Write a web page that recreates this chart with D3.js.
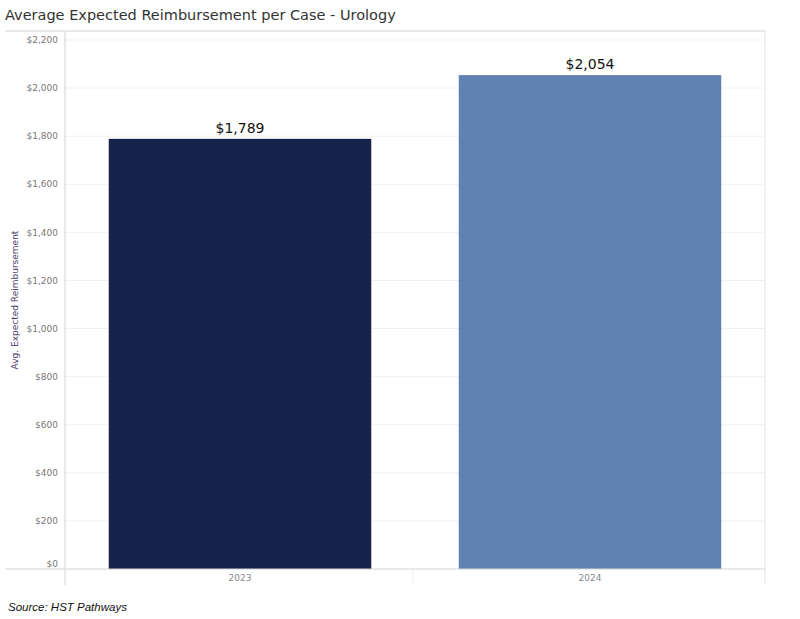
<!DOCTYPE html><html><head><meta charset="utf-8"><script src="https://cdn.jsdelivr.net/npm/d3@7"></script>
<style>body{margin:0;background:#fff}</style></head><body><svg id="c" width="800" height="619"></svg>
<script>
const categories=["2023","2024"];
const values=[1789,2054];
const colors=["#16234b","#5f82b0"];
const yTicks=[0,200,400,600,800,1000,1200,1400,1600,1800,2000,2200];
const svg=d3.select("#c");
const L=65,R=765,T=31,B=569;
const x=d3.scaleBand().domain(categories).range([L,R]).paddingInner(0.25).paddingOuter(0.125);
const y=d3.scaleLinear().domain([0,2200]).range([B,40]);
const f=d3.format("$,");
svg.append("text").attr("x",5).attr("y",20).attr("font-family","Verdana, DejaVu Sans, sans-serif").attr("font-size",14.5).attr("fill","#333").text("Average Expected Reimbursement per Case - Urology");
// grid
svg.selectAll(".g").data(yTicks.filter(d=>d>0)).join("line").attr("x1",L).attr("x2",R).attr("y1",d=>y(d)).attr("y2",d=>y(d)).attr("stroke","#f1f1f1");
svg.append("line").attr("x1",5).attr("x2",R).attr("y1",T).attr("y2",T).attr("stroke","#d4d4d4");
svg.append("line").attr("x1",L).attr("x2",L).attr("y1",T).attr("y2",585).attr("stroke","#d4d4d4");
svg.append("line").attr("x1",R).attr("x2",R).attr("y1",T).attr("y2",585).attr("stroke","#e4e4e4");
svg.append("line").attr("x1",413).attr("x2",413).attr("y1",B).attr("y2",585).attr("stroke","#eee");
svg.selectAll(".yl").data(yTicks).join("text").attr("x",58).attr("y",d=>d===0?B-5:y(d)).attr("dy","0.35em").attr("text-anchor","end")
 .attr("font-family","Verdana, DejaVu Sans, sans-serif").attr("font-size",9).attr("fill","#777").text(d=>f(d));
svg.append("text").attr("transform","translate(18,300) rotate(-90)").attr("text-anchor","middle").attr("font-family","Verdana, DejaVu Sans, sans-serif").attr("font-size",9).attr("fill","#4a3a6a").text("Avg. Expected Reimbursement");
svg.selectAll(".b").data(values).join("rect").attr("x",(d,i)=>x(categories[i])).attr("width",x.bandwidth()).attr("y",d=>y(d)).attr("height",d=>B-y(d)).attr("fill",(d,i)=>colors[i]);
svg.selectAll(".v").data(values).join("text").attr("x",(d,i)=>x(categories[i])+x.bandwidth()/2).attr("y",d=>y(d)-6).attr("text-anchor","middle")
 .attr("font-family","Verdana, DejaVu Sans, sans-serif").attr("font-size",14).attr("fill","#111").text(d=>f(d));
svg.append("line").attr("x1",5).attr("x2",R).attr("y1",B).attr("y2",B).attr("stroke","#d4d4d4");
svg.selectAll(".xl").data(categories).join("text").attr("x",d=>x(d)+x.bandwidth()/2).attr("y",581).attr("text-anchor","middle")
 .attr("font-family","Verdana, DejaVu Sans, sans-serif").attr("font-size",9).attr("fill","#888").text(d=>d);
svg.append("text").attr("x",8).attr("y",611).attr("font-family","Arial, Liberation Sans, sans-serif").attr("font-style","italic").attr("font-size",11.5).attr("fill","#111").text("Source: HST Pathways");
</script></body></html>
